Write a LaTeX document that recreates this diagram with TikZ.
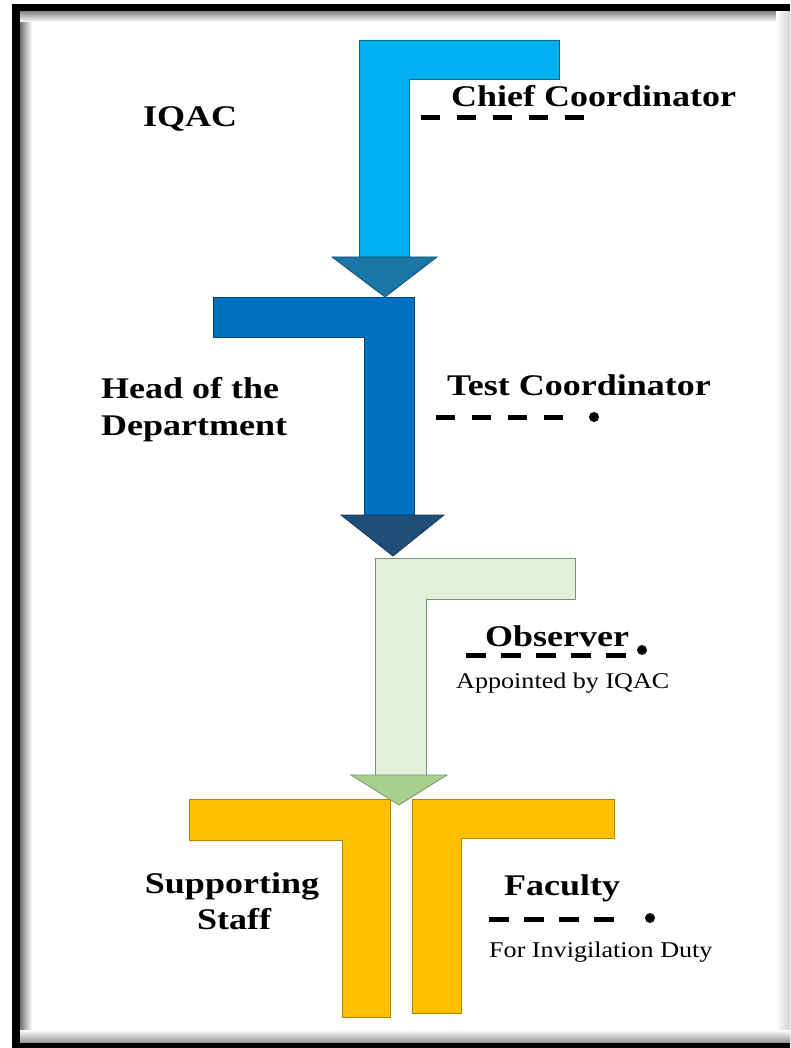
\documentclass[tikz,border=0pt]{standalone}
\usepackage{fontspec}
\setmainfont{Liberation Serif}
\newfontfamily\labfont[FakeStretch=1.2]{Liberation Serif}
\newfontfamily\subfont[FakeStretch=1.16]{Liberation Serif}
\definecolor{cOne}{RGB}{0,176,240}
\definecolor{tOne}{RGB}{27,117,166}
\definecolor{cTwo}{RGB}{0,112,192}
\definecolor{tTwo}{RGB}{31,78,121}
\definecolor{cThree}{RGB}{226,240,217}
\definecolor{cThreeLine}{RGB}{125,145,115}
\definecolor{tThree}{RGB}{169,209,142}
\definecolor{cFour}{RGB}{255,192,0}
\tikzset{
  big/.style={font=\labfont\bfseries\fontsize{30}{37}\selectfont, inner sep=0pt, anchor=base west},
  small/.style={font=\subfont\fontsize{22.5}{27}\selectfont, inner sep=0pt, anchor=base west},
  dline/.style={line width=5pt, dash pattern=on 19pt off 17pt},
  dotend/.style={circle, fill=black, inner sep=0pt, minimum size=10pt},
  shapeline/.style={line width=0.8pt}
}
\begin{document}
\begin{tikzpicture}[x=1pt,y=-1pt]
\useasboundingbox (0,0) rectangle (790,1048);
% frame
\fill[black] (12,4) rectangle (790,1048);
\fill[white] (20,12) rectangle (790,1042);
\shade[left color=black!55, right color=white] (20,12) rectangle (32,1042);
\shade[top color=black!45, bottom color=white] (20,12) rectangle (790,22);
\shade[left color=white, right color=black!18] (776,12) rectangle (790,1042);
\shade[top color=white, bottom color=black!40] (20,1030) rectangle (790,1042);

% shape 1
\filldraw[fill=cOne, draw=cOne!60!black, shapeline]
  (359,40) -- (559,40) -- (559,79) -- (409,79) -- (409,257) -- (359,257) -- cycle;
\filldraw[fill=tOne, draw=tOne!70!black, shapeline]
  (332,257) -- (437,257) -- (385,297) -- cycle;
% shape 2
\filldraw[fill=cTwo, draw=cTwo!60!black, shapeline]
  (213,297) -- (414,297) -- (414,515) -- (364,515) -- (364,337) -- (213,337) -- cycle;
\filldraw[fill=tTwo, draw=tTwo!70!black, shapeline]
  (341,515) -- (444,515) -- (393,556) -- cycle;
% shape 3
\filldraw[fill=cThree, draw=cThreeLine, shapeline]
  (375,558) -- (575,558) -- (575,599) -- (426,599) -- (426,775) -- (375,775) -- cycle;
% shape 4
\filldraw[fill=cFour, draw=cFour!70!black, shapeline]
  (189,799) -- (390,799) -- (390,1017) -- (342,1017) -- (342,840) -- (189,840) -- cycle;
\filldraw[fill=cFour, draw=cFour!70!black, shapeline]
  (412,799) -- (614,799) -- (614,838) -- (461,838) -- (461,1013) -- (412,1013) -- cycle;
\filldraw[fill=tThree, draw=cThreeLine, shapeline]
  (351,775) -- (447,775) -- (399,805) -- cycle;

% labels
\node[big] (iqac) at (143,127) {IQAC};
\node[big] (chief) at (451,107) {Chief Coordinator};
\node[big] (hod1) at (101,398) {Head of the};
\node[big] (hod2) at (101,435) {Department};
\node[big] (test) at (447,395) {Test Coordinator};
\node[big] (obs) at (485,646) {Observer};
\node[small] (appt) at (456,688) {Appointed by IQAC};
\node[big, anchor=base] (sup1) at (232,893) {Supporting};
\node[big, anchor=base] (sup2) at (234,929) {Staff};
\node[big] (fac) at (504,895) {Faculty};
\node[small] (inv) at (489,957) {For Invigilation Duty};

% dashed leaders
\coordinate (ca) at (421,118); \coordinate (cb) at (588,118);
\draw[dline] (ca) -- (cb);
\coordinate (ta) at (436,417); \coordinate (tb) at (566,417);
\draw[dline] (ta) -- (tb);
\node[dotend] (tdot) at (594,417) {};
\coordinate (oa) at (466,655); \coordinate (ob) at (630,655);
\draw[dline, dash pattern=on 20pt off 15pt] (oa) -- (ob);
\node[dotend] (odot) at (642,650) {};
\coordinate (fa) at (489,919); \coordinate (fb) at (616,919);
\draw[dline, dash pattern=on 20pt off 15pt] (fa) -- (fb);
\node[dotend] (fdot) at (650,918) {};
\end{tikzpicture}
\end{document}
